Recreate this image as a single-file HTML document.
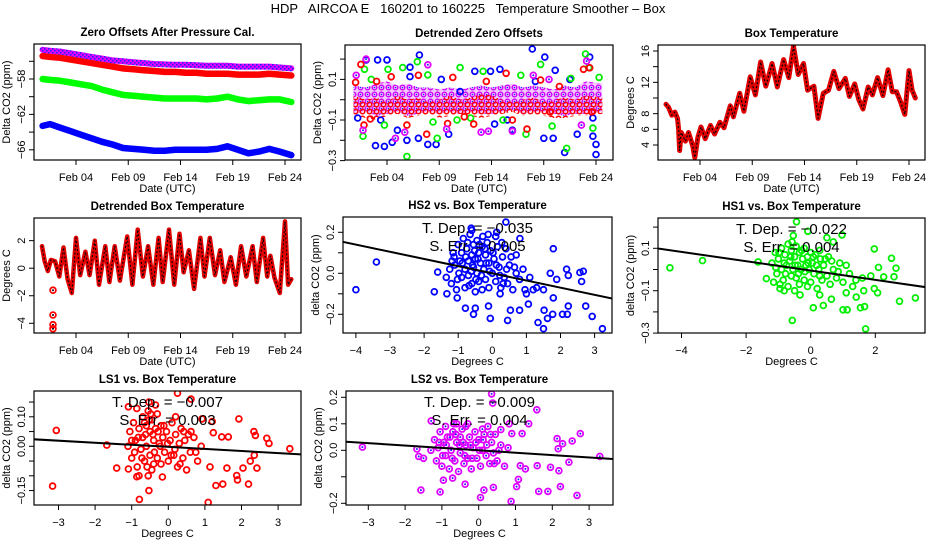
<!DOCTYPE html>
<html><head><meta charset="utf-8"><style>
html,body{margin:0;padding:0;background:#fff;}
svg{display:block;font-family:"Liberation Sans",Arial,sans-serif;}
</style></head><body>
<svg id="chart" width="936" height="540" viewBox="0 0 936 540" xmlns="http://www.w3.org/2000/svg">
<defs>
<pattern id="purplePat" width="4" height="4" patternUnits="userSpaceOnUse"><rect width="4" height="4" fill="#e000ff"/><rect width="1.5" height="1.5" fill="#2020ff"/><rect x="2" y="2" width="1.5" height="1.5" fill="#2020ff"/></pattern>
<pattern id="bandPat" width="7" height="7" patternUnits="userSpaceOnUse"><rect width="7" height="7" fill="#f2c8ff"/><circle cx="3.5" cy="3.5" r="2.3" fill="none" stroke="#d000ff" stroke-width="1.4"/><circle cx="3.5" cy="3.5" r="0.8" fill="#2020ff"/></pattern>
<pattern id="redBandPat" width="7" height="7" patternUnits="userSpaceOnUse" x="2" y="3"><circle cx="3.5" cy="3.5" r="2.3" fill="none" stroke="#ff0000" stroke-width="1.5"/></pattern>
</defs>
<text x="468" y="13" text-anchor="middle" font-size="13" xml:space="preserve">HDP   AIRCOA E   160201 to 160225   Temperature Smoother – Box</text>
</svg>
<script>
// ---------- Data ----------
const dateTickDays=[4,9,14,19,24];
const dateTickLabels=["Feb 04","Feb 09","Feb 14","Feb 19","Feb 24"];

// Panel 1: zero offsets
const p1Days=[0.8,1.5,2.5,3.5,4.5,5.5,6.5,7.5,8.5,9.5,10.5,11.5,12.5,13.5,14.5,15.5,16.5,17.5,18.5,19.5,20.5,21.5,22.5,23.5,24.6];
const p1Purple=[-54.7,-54.8,-54.9,-55.1,-55.3,-55.5,-55.7,-55.9,-56.0,-56.1,-56.2,-56.3,-56.35,-56.4,-56.4,-56.45,-56.5,-56.5,-56.5,-56.6,-56.6,-56.6,-56.6,-56.7,-56.8];
const p1Red=[-55.4,-55.5,-55.6,-55.8,-56.0,-56.2,-56.4,-56.6,-56.8,-56.9,-57.0,-57.1,-57.2,-57.2,-57.3,-57.3,-57.4,-57.4,-57.4,-57.5,-57.5,-57.5,-57.4,-57.5,-57.6];
const p1Green=[-58.0,-58.1,-58.2,-58.4,-58.6,-58.8,-59.2,-59.5,-59.8,-59.9,-60.0,-60.1,-60.2,-60.2,-60.2,-60.2,-60.3,-60.2,-60.0,-60.3,-60.5,-60.4,-60.3,-60.3,-60.6];
const p1Blue=[-63.3,-63.1,-63.5,-63.9,-64.3,-64.7,-65.1,-65.4,-65.8,-65.9,-66.0,-66.1,-66.1,-66.0,-66.0,-66.0,-66.0,-65.9,-65.6,-66.0,-66.4,-66.2,-65.9,-66.2,-66.6];

// Panel 2: detrended zero offsets
const p2BandDays=[0.8,2,3,4,5,6,7,8,9,10,11,12,13,14,15,16,17,18,19,20,21,22,23,24.6];
const p2PurpleHi=[0.07,0.06,0.08,0.09,0.07,0.08,0.06,0.06,0.05,0.06,0.05,0.06,0.07,0.06,0.07,0.08,0.06,0.07,0.06,0.05,0.07,0.06,0.09,0.08];
const p2PurpleLo=[-0.07,-0.06,-0.08,-0.07,-0.06,-0.08,-0.07,-0.06,-0.07,-0.06,-0.07,-0.06,-0.07,-0.07,-0.06,-0.05,-0.07,-0.06,-0.06,-0.07,-0.08,-0.07,-0.07,-0.06];
const p2RedHi=[0.02,0.0,0.01,-0.01,0.02,0.0,0.01,-0.01,0.0,0.02,0.0,0.01,0.03,0.02,0.0,-0.01,0.0,0.01,-0.01,0.0,0.01,0.0,0.02,0.01];
const p2RedLo=[-0.08,-0.09,-0.1,-0.08,-0.07,-0.09,-0.08,-0.07,-0.09,-0.08,-0.07,-0.08,-0.09,-0.08,-0.07,-0.06,-0.08,-0.07,-0.08,-0.09,-0.09,-0.08,-0.08,-0.07];
const p2BluePts=[[2.0,0.196],[3.1,0.196],[4.0,0.196],[2.9,-0.226],[3.75,-0.23],[4.5,-0.21],[5.0,-0.15],[5.9,-0.2],[6.2,0.114],[6.2,0.16],[7.0,-0.19],[7.1,0.22],[7.9,-0.22],[8.7,-0.22],[9.9,-0.17],[11.0,0.04],[12.4,0.14],[13.9,0.14],[14.3,-0.12],[14.8,0.15],[16.0,-0.15],[17.9,0.25],[19.1,0.21],[19.0,-0.19],[20.1,0.145],[19.9,-0.19],[21.0,-0.26],[21.5,0.1],[22.2,-0.17],[23.4,0.21],[23.7,-0.18],[24.0,-0.22],[24.0,-0.27],[23.7,-0.09],[1.2,-0.09],[3.4,-0.1],[9.2,0.1],[15.5,-0.1],[18.2,0.09]];
const p2GreenPts=[[1.7,-0.18],[1.85,0.15],[4.1,0.15],[3.75,-0.125],[5.9,-0.28],[5.5,0.158],[6.9,0.187],[7.9,0.122],[8.8,-0.19],[8.4,-0.11],[11.0,0.158],[10.7,-0.1],[13.2,0.14],[15.1,-0.1],[16.8,0.12],[17.3,-0.17],[18.7,0.174],[19.8,-0.13],[21.2,-0.24],[21.6,0.105],[23.0,0.225],[23.3,0.158],[23.7,-0.14],[24.3,0.11],[2.5,0.1],[12.0,-0.09]];
const p2RedPts=[[1.5,0.174],[1.0,0.085],[1.8,-0.125],[2.4,-0.095],[4.4,0.113],[5.9,-0.125],[7.0,0.12],[7.8,-0.17],[10.3,0.11],[9.8,-0.117],[11.4,-0.084],[12.3,-0.12],[15.4,0.13],[16.0,-0.1],[17.4,-0.145],[18.7,0.097],[19.6,-0.06],[20.5,0.065],[22.8,0.15],[23.4,0.157],[23.6,-0.06],[3.0,0.09],[13.5,0.09]];
const p2PurplePts=[[2.0,0.2],[1.05,0.12],[1.7,-0.15],[4.8,-0.19],[5.7,-0.16],[7.9,0.172],[9.7,-0.145],[13.0,-0.16],[13.7,-0.155],[16.0,-0.155],[18.0,0.12],[19.5,0.1],[22.6,-0.125],[23.1,0.19]];

// Panel 3: box temperature
const p3Days=[0.75,1.0,1.3,1.6,1.85,1.95,2.05,2.2,2.6,2.9,3.3,3.5,3.8,4.1,4.5,5.0,5.4,5.9,6.3,6.9,7.2,7.8,8.2,8.8,9.3,9.8,10.3,10.9,11.4,12.0,12.5,12.95,13.4,13.9,14.3,14.9,15.3,15.8,16.3,16.8,17.3,17.9,18.3,18.8,19.2,19.6,20.1,20.5,21.0,21.5,22.0,22.4,22.8,23.2,23.6,24.0,24.3,24.6];
const p3Temp=[9.2,8.8,7.8,8.2,7.4,6.0,3.3,5.6,4.5,5.6,3.9,2.4,5.0,6.3,4.8,6.5,5.4,6.9,6.2,9.0,7.6,10.6,8.3,12.7,10.4,14.6,11.5,14.4,11.4,14.9,12.6,16.6,13.0,14.4,11.0,11.5,7.4,10.6,11.0,13.4,11.2,12.5,10.2,11.8,9.8,8.6,11.4,10.4,12.6,10.3,13.6,10.8,10.8,9.5,7.9,13.5,11.0,10.0];

// Panel 4: detrended box temperature
const p4Days=[0.75,1.0,1.3,1.6,2.0,2.4,2.8,3.2,3.6,4.0,4.4,4.9,5.3,5.8,6.2,6.8,7.2,7.7,8.2,8.9,9.4,9.9,10.4,10.9,11.4,11.9,12.3,12.9,13.4,13.9,14.3,14.8,15.3,15.9,16.3,16.8,17.3,17.8,18.2,18.8,19.3,19.8,20.3,20.9,21.3,21.9,22.3,22.6,23.0,23.5,24.0,24.3,24.6];
const p4Temp=[1.6,0.5,-0.2,0.6,0.5,-0.6,1.5,-0.8,-1.8,2.2,-0.5,1.2,-0.5,2.0,-1.2,1.6,-1.0,1.6,-0.9,2.3,-1.2,2.8,-0.6,1.6,-1.2,2.2,-1.0,2.8,-1.2,2.5,-0.3,1.3,-1.5,2.2,-0.6,2.2,-0.5,1.3,-1.0,0.8,-1.2,1.6,-0.6,1.6,-1.0,2.2,-0.6,0.9,-0.7,-1.8,3.4,-1.2,-0.8];
const p4OutlierDays=[1.8,1.8,1.8,1.8];
const p4OutlierTemp=[-1.6,-3.4,-4.1,-4.4];

// Panel 5: HS2 vs box temperature
const p5Points=[[-4.0,-0.08],[-3.4,0.055],[-1.6,0.006],[-1.7,-0.09],[-1.33,-0.1],[-1.03,-0.12],[-0.79,-0.17],[-0.55,-0.2],[-0.5,-0.17],[-0.06,-0.22],[-0.11,-0.16],[0.23,-0.1],[0.45,-0.23],[0.53,-0.18],[0.8,-0.18],[1.06,-0.15],[1.34,-0.24],[1.5,-0.27],[1.52,-0.18],[1.62,-0.22],[1.77,-0.2],[1.79,-0.12],[1.89,-0.03],[2.06,-0.2],[2.2,-0.2],[2.23,-0.16],[2.23,-0.01],[2.18,0.02],[2.57,0.004],[2.67,0.01],[2.62,-0.04],[2.74,-0.16],[2.93,-0.21],[3.23,-0.27],[1.79,0.12],[1.7,0.0],[0.81,0.17],[0.7,0.09],[0.96,-0.08],[1.3,-0.07],[1.5,-0.08],[0.4,0.25],[0.13,0.2],[-0.6,0.21],[-1.12,0.08],
[-1.25,0.02],[-1.2,-0.05],[-1.15,0.1],[-1.1,0.04],[-1.05,-0.08],[-1.0,0.14],[-0.95,0.06],[-0.9,-0.02],[-0.9,0.1],[-0.85,0.17],[-0.8,0.02],[-0.8,-0.07],[-0.75,0.12],[-0.7,0.06],[-0.7,-0.01],[-0.65,0.19],[-0.6,0.09],[-0.6,-0.05],[-0.55,0.14],[-0.55,0.03],[-0.5,-0.09],[-0.5,0.07],[-0.45,0.16],[-0.45,0.0],[-0.4,0.1],[-0.4,-0.04],[-0.35,0.05],[-0.3,0.13],[-0.3,-0.08],[-0.25,0.02],[-0.2,0.09],[-0.2,-0.03],[-0.15,0.15],[-0.1,0.05],[-0.1,-0.07],[-0.05,0.11],[0.0,0.0],[0.05,0.07],[0.1,-0.04],[0.15,0.13],[0.2,0.03],[0.25,-0.07],[0.3,0.08],[0.35,-0.02],[0.4,0.12],[0.45,-0.05],[0.5,0.04],[0.6,-0.08],[0.7,0.0],[0.8,-0.03],[-1.35,-0.02],[-0.98,0.0],[-0.62,0.22],[-0.28,0.18],[0.1,0.18],[1.0,-0.1],[1.1,-0.02],[1.2,-0.08],[0.9,0.02],
[-1.18,0.06],[-1.02,-0.03],[-0.88,0.05],[-0.72,0.15],[-0.68,-0.06],[-0.58,0.04],[-0.52,0.11],[-0.42,0.07],[-0.38,0.14],[-0.32,-0.01],[-0.22,0.12],[-0.18,0.05],[-0.08,0.01],[0.02,0.1],[0.12,0.04],[0.22,-0.01],[0.32,-0.05],[0.42,0.02],[0.55,0.08],[0.65,0.03],[-0.78,0.08],[-0.62,0.01],[-0.48,-0.03],[-0.12,0.19],[0.28,0.15]];
const p5Fit=[0.0,-0.035];

// Panel 6: HS1 vs box temperature
const p6Points=[[-4.36,0.008],[-3.35,0.042],[-1.63,0.036],[-1.37,-0.043],[-0.44,0.225],[-0.54,0.16],[-0.09,0.18],[0.97,0.163],[1.97,0.097],[2.5,0.053],[2.64,0.006],[2.58,-0.034],[2.75,-0.15],[3.24,-0.134],[1.7,-0.28],[-0.57,-0.24],[0.08,-0.18],[0.39,-0.17],[1.0,-0.19],[1.13,-0.19],[1.54,-0.18],[1.67,-0.175],[1.64,-0.1],[1.41,-0.13],[1.1,-0.11],[0.64,-0.14],[0.28,-0.12],[-0.33,-0.12],[-0.82,-0.1],[-0.95,-0.07],[2.07,-0.11],[1.97,-0.09],[1.86,-0.03],[2.1,0.01],[2.26,-0.035],[0.5,0.15],[0.7,0.13],[0.28,0.09],
[-1.2,0.03],[-1.15,-0.06],[-1.1,0.08],[-1.05,-0.02],[-1.0,0.05],[-0.95,-0.09],[-0.9,0.1],[-0.9,0.0],[-0.85,-0.05],[-0.8,0.07],[-0.75,0.02],[-0.7,-0.08],[-0.7,0.12],[-0.65,0.04],[-0.6,-0.03],[-0.6,0.09],[-0.55,0.0],[-0.5,-0.1],[-0.5,0.06],[-0.45,0.11],[-0.45,-0.04],[-0.4,0.02],[-0.35,0.08],[-0.35,-0.07],[-0.3,0.0],[-0.25,0.05],[-0.2,-0.05],[-0.2,0.1],[-0.15,0.02],[-0.1,-0.08],[-0.1,0.06],[-0.05,0.0],[0.0,0.08],[0.0,-0.06],[0.05,0.03],[0.1,-0.02],[0.15,0.07],[0.2,-0.09],[0.25,0.0],[0.3,0.05],[0.35,-0.05],[0.4,0.02],[0.5,-0.03],[0.55,0.06],[0.6,-0.07],[0.7,0.0],[0.8,-0.04],[0.9,0.03],[1.0,-0.06],[1.2,-0.02],[1.4,-0.05],
[-1.08,0.01],[-0.98,0.08],[-0.82,0.03],[-0.78,-0.02],[-0.62,0.06],[-0.58,0.13],[-0.48,0.02],[-0.38,-0.02],[-0.28,0.09],[-0.18,-0.01],[-0.08,0.03],[0.08,0.06],[0.18,0.02],[0.28,-0.03],[0.45,0.05],[0.65,0.04],[0.85,-0.01],[1.1,0.02],[1.3,-0.08],[1.6,-0.04]];
const p6Fit=[-0.005,-0.022];

// Panel 7: LS1 vs box temperature
const p7Points=[[-3.16,-0.135],[-3.06,0.054],[-1.68,0.004],[-1.41,-0.074],[-1.09,-0.077],[-0.86,-0.103],[-0.79,-0.18],[-0.53,-0.15],[-0.16,-0.104],[0.25,0.18],[0.62,0.16],[1.93,0.093],[1.09,-0.19],[1.14,-0.07],[1.3,-0.133],[1.49,-0.128],[1.6,-0.074],[1.87,-0.099],[1.89,-0.114],[2.19,-0.128],[2.04,-0.074],[2.24,-0.05],[2.35,-0.03],[2.38,0.037],[2.34,0.05],[2.69,0.027],[2.75,0.01],[2.42,-0.074],[3.32,-0.008],[1.23,0.046],[1.46,0.032],[1.64,0.032],[1.2,0.084],[0.92,0.093],[-0.86,0.128],[-1.09,0.134],[-0.53,0.15],
[-1.1,0.0],[-1.05,0.05],[-1.0,-0.04],[-0.95,0.08],[-0.9,0.02],[-0.85,-0.07],[-0.8,0.06],[-0.75,-0.01],[-0.7,0.1],[-0.7,0.03],[-0.65,-0.05],[-0.6,0.07],[-0.6,0.0],[-0.55,0.12],[-0.5,-0.03],[-0.5,0.05],[-0.45,0.09],[-0.45,-0.08],[-0.4,0.02],[-0.35,0.06],[-0.3,-0.04],[-0.3,0.11],[-0.25,0.01],[-0.2,-0.06],[-0.2,0.07],[-0.15,0.03],[-0.1,-0.02],[-0.05,0.05],[0.0,-0.05],[0.05,0.02],[0.1,0.08],[0.15,-0.03],[0.2,0.04],[0.25,-0.07],[0.3,0.01],[0.35,0.06],[0.4,-0.04],[0.45,0.02],[0.5,-0.08],[0.55,0.04],[0.6,-0.02],[0.7,0.03],[0.8,-0.05],[0.9,0.0],[-0.55,-0.1],[-0.35,0.14],[-0.8,-0.1],[0.2,0.1],
[-1.0,0.02],[-0.92,-0.02],[-0.82,0.03],[-0.72,-0.04],[-0.62,0.04],[-0.58,-0.07],[-0.52,0.09],[-0.42,0.04],[-0.38,-0.02],[-0.28,0.05],[-0.22,0.0],[-0.12,0.07],[-0.02,0.01],[0.08,-0.03],[0.18,-0.01],[0.32,-0.06],[0.42,0.05],[0.62,0.05],[0.75,-0.02],[-0.48,0.11],[-0.65,0.08],[-0.4,-0.06]];
const p7Fit=[-0.002,-0.007];

// Panel 8: LS2 vs box temperature
const p8Points=[[-3.16,0.012],[-1.68,0.005],[-1.63,-0.023],[-1.5,-0.03],[-1.57,-0.15],[-1.05,-0.157],[-0.96,-0.113],[-1.29,0.111],[-0.71,-0.105],[-0.37,-0.128],[0.35,0.213],[0.38,0.178],[1.58,0.153],[0.05,-0.178],[0.14,-0.15],[0.4,-0.14],[0.88,-0.193],[1.03,-0.137],[1.08,-0.11],[1.63,-0.155],[1.88,-0.155],[2.22,-0.137],[2.67,-0.17],[2.76,0.063],[2.54,0.035],[2.13,0.044],[2.16,0.006],[2.28,0.025],[2.45,-0.045],[2.18,-0.077],[1.95,-0.064],[1.59,-0.058],[1.27,-0.07],[1.13,-0.058],[1.36,0.1],[1.18,0.063],[3.29,-0.023],[0.83,0.1],[0.6,0.078],[0.9,0.063],
[-1.2,0.04],[-1.15,-0.04],[-1.1,0.01],[-1.05,0.07],[-1.0,-0.06],[-0.95,0.03],[-0.9,0.09],[-0.9,-0.02],[-0.85,0.05],[-0.8,-0.07],[-0.75,0.0],[-0.7,0.07],[-0.65,-0.04],[-0.6,0.03],[-0.6,0.1],[-0.55,-0.08],[-0.5,0.05],[-0.5,-0.01],[-0.45,0.08],[-0.4,-0.05],[-0.35,0.02],[-0.3,0.1],[-0.3,-0.03],[-0.25,0.05],[-0.2,-0.07],[-0.15,0.01],[-0.1,0.07],[-0.05,-0.03],[0.0,0.04],[0.05,-0.06],[0.1,0.0],[0.15,0.06],[0.2,-0.02],[0.25,0.09],[0.3,-0.05],[0.35,0.03],[0.4,-0.01],[0.45,0.06],[0.5,-0.04],[0.6,0.02],[-1.3,0.0],[0.7,-0.06],[0.8,0.01],
[-1.08,0.03],[-0.98,-0.02],[-0.88,0.02],[-0.78,0.05],[-0.72,-0.03],[-0.62,0.06],[-0.52,0.02],[-0.42,0.03],[-0.38,-0.02],[-0.22,0.02],[-0.18,-0.03],[-0.08,0.03],[0.02,0.0],[0.12,0.04],[0.22,0.02],[0.32,0.06],[0.42,-0.05],[0.55,0.0],[-0.68,0.1],[-0.35,0.09],[0.1,0.08]];
const p8Fit=[0.0,-0.009];

// ---------- Rendering ----------
const NS='http://www.w3.org/2000/svg';
const svg=document.getElementById('chart');
function mk(tag,attrs,parent){const e=document.createElementNS(NS,tag);for(const k in attrs)e.setAttribute(k,attrs[k]);(parent||svg).appendChild(e);return e;}
let clipId=0;

function panel(cfg){
  const g=mk('g',{});
  
  
  const t=mk('text',{x:(cfg.x0+cfg.x1)/2,y:cfg.y0-8,'text-anchor':'middle','font-size':11.5,'font-weight':'bold'},g);
  t.textContent=cfg.title;
  
  
  cfg.xt.forEach((v,i)=>{
    const x=cfg.sx(v);
    const tk=mk('line',{x1:x,x2:x,y1:cfg.y1,y2:cfg.y1+5,stroke:'#000','stroke-width':1},g);
    
    
    if(cfg.xl[i]!==''){
      const l=mk('text',{x:x,y:cfg.y1+21,'text-anchor':'middle','font-size':11},g);
      l.textContent=cfg.xl[i];
      
      
    }
  });
  cfg.yt.forEach((v,i)=>{
    const y=cfg.sy(v);
    const tk=mk('line',{x1:cfg.x0-5,x2:cfg.x0,y1:y,y2:y,stroke:'#000','stroke-width':1},g);
    
    
    if(cfg.yl[i]!==''){
      const l=mk('text',{x:0,y:0,'text-anchor':'middle','font-size':11,transform:`translate(${cfg.x0-9},${y}) rotate(-90)`},g);
      l.textContent=cfg.yl[i];
      
      
    }
  });
  const xl=mk('text',{x:(cfg.x0+cfg.x1)/2,y:cfg.y1+32,'text-anchor':'middle','font-size':11},g);
  xl.textContent=cfg.xlab;
  
  
  const yl=mk('text',{x:0,y:0,'text-anchor':'middle','font-size':11,transform:`translate(${cfg.x0-24},${(cfg.y0+cfg.y1)/2}) rotate(-90)`},g);
  yl.textContent=cfg.ylab;
  
  
  const id='clip'+(clipId++);
  const cp=mk('clipPath',{id:id},g);
  mk('rect',{x:cfg.x0,y:cfg.y0,width:cfg.x1-cfg.x0,height:cfg.y1-cfg.y0},cp);
  const plot=mk('g',{'clip-path':`url(#${id})`},g);
  
  
  const box=mk('rect',{x:cfg.x0,y:cfg.y0,width:cfg.x1-cfg.x0,height:cfg.y1-cfg.y0,fill:'none',stroke:'#000','stroke-width':1.2},g);
  
  
  return {g,plot,box};
}
function timeX(x0){return d=>x0+42+(d-4)*10.45;}
function polyline(parent,xs,ys,sx,sy,stroke,w,name){
  const pts=xs.map((d,i)=>sx(d).toFixed(1)+','+sy(ys[i]).toFixed(1)).join(' ');
  const p=mk('polyline',{points:pts,fill:'none',stroke:stroke,'stroke-width':w,'stroke-linejoin':'round','stroke-linecap':'round'},parent);
  
  
  return p;
}
function dots(parent,pts,sx,sy,color,name,inner){
  pts.forEach(([a,b])=>{
    const c=mk('circle',{cx:sx(a).toFixed(1),cy:sy(b).toFixed(1),r:2.9,fill:'none',stroke:color,'stroke-width':1.8},parent);
    
    
    if(inner){mk('circle',{cx:sx(a).toFixed(1),cy:sy(b).toFixed(1),r:1,fill:inner},parent);}
  });
}
function band(parent,xs,hi,lo,sx,sy,fill,op,name){
  const top=xs.map((d,i)=>sx(d).toFixed(1)+','+sy(hi[i]).toFixed(1));
  const bot=xs.map((d,i)=>sx(d).toFixed(1)+','+sy(lo[i]).toFixed(1)).reverse();
  const p=mk('polygon',{points:top.concat(bot).join(' '),fill:fill,opacity:op},parent);
  
  
}

// Panel 1
{
  const sx=timeX(34), sy=v=>79+(-58-v)*8.85;
  const P=panel({name:'zero-offsets-panel',title:'Zero Offsets After Pressure Cal.',x0:34,x1:301,y0:44,y1:160,sx,sy,
    xt:dateTickDays,xl:dateTickLabels,yt:[-56,-58,-60,-62,-64,-66],yl:['','−58','','−62','','−66'],xlab:'Date (UTC)',ylab:'Delta CO2 (ppm)'});
  polyline(P.plot,p1Days,p1Blue,sx,sy,'#0000ff',6.5,'ls-blue-series');
  polyline(P.plot,p1Days,p1Green,sx,sy,'#00ff00',6.5,'hs1-green-series');
  polyline(P.plot,p1Days,p1Red,sx,sy,'#ff0000',6.5,'ls1-red-series');
  polyline(P.plot,p1Days,p1Purple,sx,sy,'url(#purplePat)',6,'ls2-purple-series');
}
// Panel 2
{
  const sx=timeX(345), sy=v=>99.7-v*203;
  const P=panel({name:'detrended-zero-offsets-panel',title:'Detrended Zero Offsets',x0:345,x1:613,y0:45,y1:160,sx,sy,
    xt:dateTickDays,xl:dateTickLabels,yt:[0.2,0.1,0,-0.1,-0.2,-0.3],yl:['','0.1','','−0.1','','−0.3'],xlab:'Date (UTC)',ylab:'Delta CO2 (ppm)'});
  band(P.plot,p2BandDays,p2PurpleHi,p2PurpleLo,sx,sy,'url(#bandPat)',1,'purple-band');
  band(P.plot,p2BandDays,p2RedHi,p2RedLo,sx,sy,'url(#redBandPat)',1,'red-band');
  dots(P.plot,p2BluePts,sx,sy,'#0000ff','blue-point');
  dots(P.plot,p2GreenPts,sx,sy,'#00ee00','green-point');
  dots(P.plot,p2RedPts,sx,sy,'#ff0000','red-point');
  dots(P.plot,p2PurplePts,sx,sy,'#e000ff','purple-point','#2020ff');
}
// Panel 3
{
  const sx=timeX(658), sy=v=>51+(16-v)*7.833;
  const P=panel({name:'box-temperature-panel',title:'Box Temperature',x0:658,x1:925,y0:45,y1:160,sx,sy,
    xt:dateTickDays,xl:dateTickLabels,yt:[4,6,8,10,12,14,16],yl:['4','6','8','','12','','16'],xlab:'Date (UTC)',ylab:'Degrees C'});
  polyline(P.plot,p3Days,p3Temp,sx,sy,'#e00000',5,'box-temperature-series');
  const o=polyline(P.plot,p3Days,p3Temp,sx,sy,'#000',1.2,'box-temperature-texture');
  o.setAttribute('stroke-dasharray','1 3');
}
// Panel 4
{
  const sx=timeX(34), sy=v=>268.2-v*13.77;
  const P=panel({name:'detrended-box-temperature-panel',title:'Detrended Box Temperature',x0:34,x1:301,y0:218,y1:333,sx,sy,
    xt:dateTickDays,xl:dateTickLabels,yt:[2,0,-2,-4],yl:['2','0','−2','−4'],xlab:'Date (UTC)',ylab:'Degrees C'});
  polyline(P.plot,p4Days,p4Temp,sx,sy,'#e00000',4.5,'detrended-temperature-series');
  const o=polyline(P.plot,p4Days,p4Temp,sx,sy,'#000',1.1,'detrended-temperature-texture');
  o.setAttribute('stroke-dasharray','1 3');
  dots(P.plot,p4OutlierDays.map((d,i)=>[d,p4OutlierTemp[i]]),sx,sy,'#ff0000','temperature-outlier','#000');
}
function scatterPanel(cfg,points,fit,color,inner,tdep,serr){
  const P=panel(cfg);
  dots(P.plot,points,cfg.sx,cfg.sy,color,'scatter-point',inner);
  const a=cfg.tmin,b=cfg.tmax;
  const ln=mk('line',{x1:cfg.sx(a),y1:cfg.sy(fit[0]+fit[1]*a),x2:cfg.sx(b),y2:cfg.sy(fit[0]+fit[1]*b),stroke:'#000','stroke-width':2},P.plot);
  
  
  const cx=(cfg.x0+cfg.x1)/2;
  const t1=mk('text',{x:cx,y:cfg.y0+16,'text-anchor':'middle','font-size':15},P.g);
  t1.textContent='T. Dep. =  '+tdep;
  
  
  const t2=mk('text',{x:cx,y:cfg.y0+34,'text-anchor':'middle','font-size':15},P.g);
  t2.textContent='S. Err. =  '+serr;
  
  
}
scatterPanel({name:'hs2-vs-temperature-panel',title:'HS2 vs. Box Temperature',x0:343,x1:612,y0:217,y1:333,
  sx:t=>492.3+t*34.1,sy:v=>273.3-v*205,tmin:-4.4,tmax:3.6,
  xt:[-4,-3,-2,-1,0,1,2,3],xl:['−4','−3','−2','−1','0','1','2','3'],yt:[0.2,0.1,0,-0.1,-0.2],yl:['0.2','','0.0','','−0.2'],xlab:'Degrees C',ylab:'delta CO2 (ppm)'},
  p5Points,p5Fit,'#0000ff',null,'−0.035','0.005');
scatterPanel({name:'hs1-vs-temperature-panel',title:'HS1 vs. Box Temperature',x0:658,x1:925,y0:218,y1:333,
  sx:t=>810.7+t*32.3,sy:v=>269.5-v*212,tmin:-4.8,tmax:3.6,
  xt:[-4,-2,0,2],xl:['−4','−2','0','2'],yt:[0.2,0.1,0,-0.1,-0.2,-0.3],yl:['','0.1','','−0.1','','−0.3'],xlab:'Degrees C',ylab:'delta CO2 (ppm)'},
  p6Points,p6Fit,'#00ee00',null,'−0.022','0.004');
scatterPanel({name:'ls1-vs-temperature-panel',title:'LS1 vs. Box Temperature',x0:34,x1:301,y0:391,y1:505,
  sx:t=>168.3+t*36.6,sy:v=>446.3-v*295,tmin:-3.7,tmax:3.7,
  xt:[-3,-2,-1,0,1,2,3],xl:['−3','−2','−1','0','1','2','3'],yt:[0.15,0.1,0.05,0,-0.05,-0.1,-0.15],yl:['','0.10','','0.00','','','−0.15'],xlab:'Degrees C',ylab:'delta CO2 (ppm)'},
  p7Points,p7Fit,'#ff0000',null,'−0.007','0.003');
scatterPanel({name:'ls2-vs-temperature-panel',title:'LS2 vs. Box Temperature',x0:346,x1:613,y0:391,y1:505,
  sx:t=>478.7+t*36.8,sy:v=>450.3-v*265,tmin:-3.7,tmax:3.7,
  xt:[-3,-2,-1,0,1,2,3],xl:['−3','−2','−1','0','1','2','3'],yt:[0.2,0.1,0,-0.1,-0.2],yl:['0.2','0.1','0.0','','−0.2'],xlab:'Degrees C',ylab:'delta CO2 (ppm)'},
  p8Points,p8Fit,'#e000ff','#2020ff','−0.009','0.004');
</script>
</body></html>
